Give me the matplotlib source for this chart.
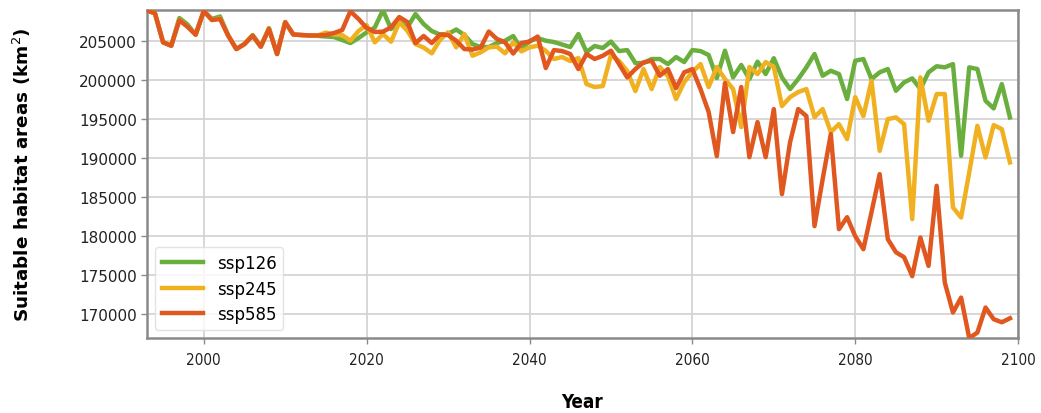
import matplotlib
matplotlib.use('Agg')
import matplotlib.pyplot as plt
from matplotlib.ticker import ScalarFormatter

# annual suitable habitat area (km2) under each scenario, 1993-2099
years = list(range(1993, 2100))

ssp126 = [
    208950, 208640, 204910, 204460, 207990, 207160, 205870, 208890, 207870, 208190,
    205750, 204010, 204650, 205810, 204330, 206710, 203370, 207480, 205870, 205810,
    205750, 205700, 205620, 205550, 205170, 204780, 205420, 206160, 206780, 209000,
    206580, 207480, 206800, 208500, 207220, 206320, 205870, 205940, 206520, 205810,
    204650, 204270, 204270, 204780, 205080, 205680, 204010, 205040, 205420, 205080,
    204910, 204590, 204270, 205940, 203630, 204400, 204140, 204970, 203750, 203880,
    202210, 202210, 202730, 202730, 202080, 202980, 202340, 203880, 203750, 203240,
    200280, 203800, 200370, 201960, 200160, 202380, 200800, 202830, 200370, 198870,
    200160, 201660, 203370, 200580, 201220, 200800, 197590, 202510, 202730, 200160,
    201020, 201440, 198650, 199730, 200240, 198870, 201020, 201800, 201660, 202080,
    190300, 201660, 201440, 197370, 196390, 199510, 195230,
]

ssp245 = [
    208950, 208600, 204870, 204430, 207740, 206900, 205870, 208890, 207740, 207930,
    205750, 204010, 204650, 205740, 204330, 206650, 203370, 207480, 205870, 205810,
    205750, 205750, 206130, 205870, 205810, 205080, 206320, 207090, 204870, 205940,
    204950, 207440, 206360, 204650, 204200, 203460, 205170, 206160, 204230, 205940,
    203150, 203590, 204230, 204310, 203460, 204870, 203710, 204230, 204440, 203780,
    202730, 202980, 202470, 202850, 199510, 199130, 199260, 203240, 202470, 201180,
    198610, 201440, 198870, 201700, 200540, 197590, 199770, 201060, 202080, 199130,
    201700, 200160, 198870, 193990, 201700, 200800, 202340, 201700, 196690, 197840,
    198490, 198870, 195270, 196300, 193350, 194370, 192450, 197840, 195400, 199940,
    190940, 195020, 195230, 194370, 182170, 200370, 194800, 198230, 198230, 183670,
    182380, 188170, 194150, 190090, 194240, 193730, 189450,
]

ssp585 = [
    208950, 208600, 204870, 204430, 207700, 206880, 205850, 208890, 207740, 207870,
    205720, 204010, 204650, 205720, 204310, 206580, 203370, 207440, 205870, 205810,
    205750, 205750, 205810, 206070, 206450, 208860, 207870, 206710, 206200, 206240,
    206800, 208120, 207480, 204780, 205680, 204780, 205870, 205810, 205080, 204010,
    203950, 204200, 206260, 205300, 204870, 203430, 204780, 204970, 205620, 201570,
    203880, 203750, 203370, 201440, 203370, 202730, 203150, 203790, 202080, 200370,
    201440, 202300, 202510, 200580, 201440, 199000, 201020, 201440, 198870, 195920,
    190260, 199640, 193350, 199130, 190130, 194630, 190130, 196300, 185380, 192060,
    196300, 195400, 181270, 187310, 193090, 180880, 182420, 179980, 178310, 183070,
    187950, 179600, 177920, 177280, 174840, 179810, 176170, 186450, 174030, 170180,
    172100, 166900, 167610, 170820, 169320, 168930, 169440,
]

scenarios = ['ssp126', 'ssp245', 'ssp585']
colors = ['#6aaf3d', '#f0b020', '#e0571f']

fig = plt.figure(figsize=(10.41, 4.14), dpi=100)
ax = fig.add_axes([0.141, 0.181, 0.837, 0.792])

for name, vals, c in zip(scenarios, [ssp126, ssp245, ssp585], colors):
    ax.plot(years, vals, color=c, lw=3.2, label=name, zorder=3)

all_vals = ssp126 + ssp245 + ssp585
ax.set_xlim(1993, 2100)
ax.set_ylim(min(all_vals), max(all_vals))

ax.set_xticks(range(2000, 2101, 20))
ax.set_yticks(range(170000, 205001, 5000))
fmt = ScalarFormatter(useOffset=False)
fmt.set_scientific(False)
ax.yaxis.set_major_formatter(fmt)

ax.grid(True, color='#d4d4d4', lw=1.3)
ax.set_axisbelow(True)
for s in ax.spines.values():
    s.set_color('#8a8a8a')
    s.set_linewidth(1.8)
ax.tick_params(axis='both', colors='#8a8a8a', labelcolor='#222222', length=4, width=1)
ax.tick_params(axis='y', labelsize=11, pad=3)
for lab in ax.get_xticklabels():
    lab.set_fontsize(11)
    lab.set_fontstretch('condensed')
ax.tick_params(axis='x', pad=6)

ax.set_ylabel('Suitable habitat areas (km$^2$)', fontsize=13.2, fontweight='bold', labelpad=33)
ax.set_xlabel('Year', fontsize=13.5, fontweight='bold', fontstretch='condensed', labelpad=18)

ax.legend(loc='lower left', fontsize=12, handlelength=2.5, framealpha=0.8,
          edgecolor='#dddddd', labelspacing=0.45)

fig.savefig('out.png', dpi=100)
